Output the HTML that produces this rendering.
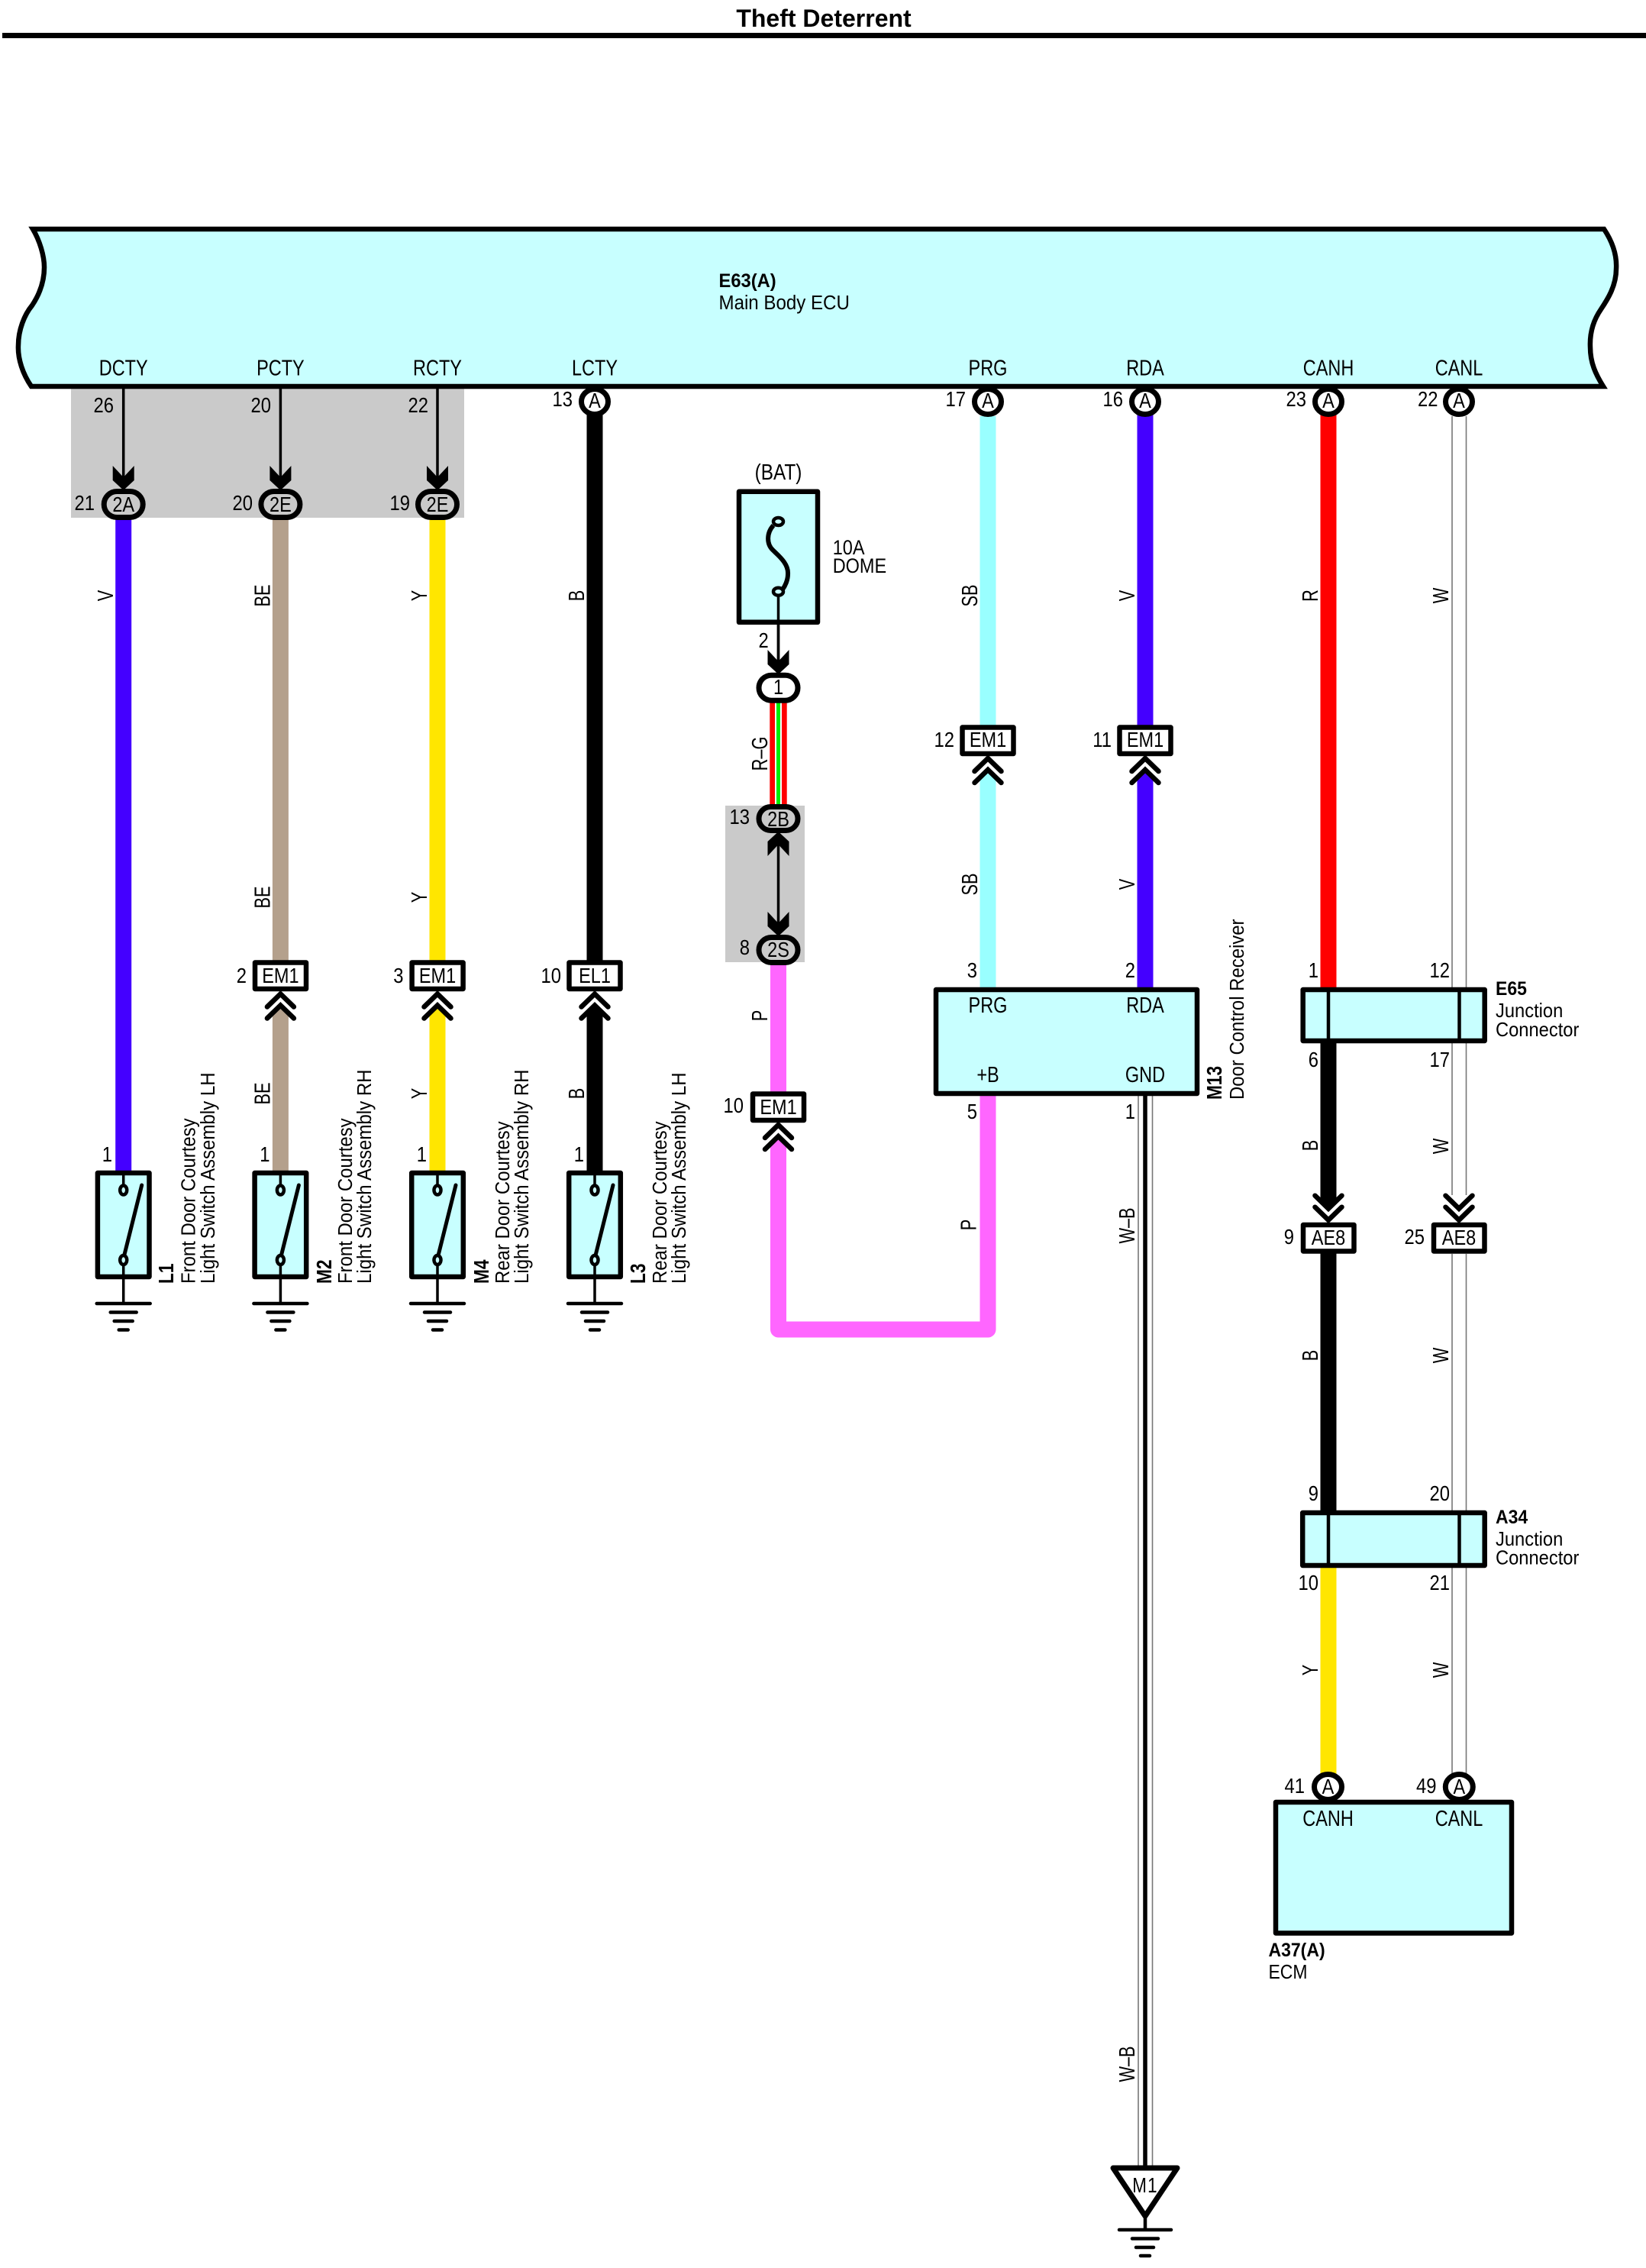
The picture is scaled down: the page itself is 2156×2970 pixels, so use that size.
<!DOCTYPE html>
<html lang="en"><head><meta charset="utf-8"><title>Theft Deterrent</title>
<style>
html,body{margin:0;padding:0;background:#fff}
svg{display:block}
text{font-family:"Liberation Sans",sans-serif;fill:#000}
.n{font-size:28px}.p{font-size:29px}.d{font-size:25.5px}.b{font-size:25px;font-weight:bold}
.m{text-anchor:middle}.e{text-anchor:end}
.w{fill:none;stroke-width:21}
.t{fill:none;stroke:#000;stroke-width:3.5}
.g{fill:none;stroke:#777;stroke-width:1.6}
.box{fill:#c8ffff;stroke:#000;stroke-width:6.5;stroke-linejoin:round}
.cb{fill:#fff;stroke:#000;stroke-width:6.5;stroke-linejoin:round}
</style></head><body>
<svg xmlns="http://www.w3.org/2000/svg" width="2156" height="2970" viewBox="0 0 2156 2970">
<defs>
<g id="ch" fill="none" stroke="#000" stroke-width="6.5" stroke-linecap="round"><path d="M-17.5,20L0,3L17.5,20"/><path d="M-17.5,35L0,18L17.5,35"/></g>
<path id="ft" d="M-14,-30L0,-15L14,-30L14,-11L0,2L-14,-11Z" fill="#000"/>
<g id="gnd" stroke="#000" stroke-width="4.5" stroke-linecap="round"><path d="M-35,0H35M-17,11.500H17M-12,23H12M-6,34.500H6"/></g>
<g id="sw">
<rect class="box" x="-33.800" y="1536" width="67.600" height="136"/>
<path d="M0,1536V1552M0,1656V1707" stroke="#000" stroke-width="3.500" fill="none"/>
<ellipse cx="0" cy="1558.500" rx="4.500" ry="6" fill="#c8ffff" stroke="#000" stroke-width="4.500"/>
<ellipse cx="0" cy="1650" rx="4.500" ry="6" fill="#c8ffff" stroke="#000" stroke-width="4.500"/>
<path d="M1,1644L24,1552" stroke="#000" stroke-width="5" stroke-linecap="round"/>
<use href="#gnd" y="1707"/>
</g>
</defs>
<rect width="2156" height="2970" fill="#fff"/>
<text transform="translate(1079,35)" class="m" style="font-size:32px;font-weight:bold">Theft Deterrent</text>
<rect x="3" y="43" width="2153" height="7" fill="#000"/>

<rect x="93" y="506" width="515" height="172" fill="#cacaca"/>
<rect x="950" y="1055" width="104" height="205" fill="#cacaca"/>

<!-- wires -->
<path class="w" stroke="#4400ff" d="M161.700,680V1535"/>
<path class="w" stroke="#b4a08c" d="M367.400,680V1258"/>
<polygon fill="#b4a08c" points="356.900,1328 367.400,1317 377.900,1328 377.900,1535 356.900,1535"/>
<path class="w" stroke="#ffe600" d="M573,680V1258"/>
<polygon fill="#ffe600" points="562.500,1328 573,1317 583.500,1328 583.500,1535 562.500,1535"/>
<path class="w" stroke="#000" d="M779,540V1258"/>
<polygon fill="#000" points="768.500,1328 779,1317 789.500,1328 789.500,1535 768.500,1535"/>
<path class="t" d="M161.700,506V625M367.400,506V625M573,506V625"/>

<path class="w" stroke="#99ffff" d="M1294,545V952"/>
<polygon fill="#99ffff" points="1283.500,1019.500 1294,1008.500 1304.500,1019.500 1304.500,1296 1283.500,1296"/>
<path class="w" stroke="#4400ff" d="M1500,540V952"/>
<polygon fill="#4400ff" points="1489.500,1019.500 1500,1008.500 1510.500,1019.500 1510.500,1296 1489.500,1296"/>
<path class="w" stroke="#ff0000" d="M1740,540V1296"/>
<polygon fill="#000" points="1729.500,1572 1740,1583 1750.500,1572 1750.500,1360 1729.500,1360"/>
<path class="w" stroke="#000" d="M1740,1640V1980"/>
<path class="w" stroke="#ffe600" d="M1740,2050V2324"/>
<path class="g" d="M1902,545V1293M1920.500,545V1293M1902,1366V1565M1920.500,1366V1565M1902,1642V1978M1920.500,1642V1978M1902,2053V2324M1920.500,2053V2324"/>
<path class="g" d="M1491,1435V2840M1509.500,1435V2840"/>
<path d="M1500,1435V2840" stroke="#000" stroke-width="5.500" fill="none"/>

<path class="t" d="M1019.500,775V870M1019.500,1095V1230"/>
<rect x="1008.300" y="915" width="22.400" height="142" fill="#ff0000"/>
<rect x="1015" y="915" width="9" height="142" fill="#fff"/>
<rect x="1017" y="915" width="5" height="142" fill="#00ee00"/>
<path class="w" stroke="#ff66ff" d="M1019.500,1262V1430"/>
<polygon fill="#ff66ff" points="1009,1499.500 1019.500,1488.500 1030,1499.500"/>
<path class="w" stroke="#ff66ff" stroke-linejoin="round" d="M1019.500,1499V1741H1294V1432"/>

<!-- ECU -->
<path class="box" style="stroke-linejoin:miter" d="M43,300H2101C2113,318 2118,335 2117,352C2117,375 2105,393 2097,405C2088,418 2082,435 2083,455C2083,475 2090,490 2100,506H41C30,490 23,470 24,452C24,432 32,412 42,400C52,385 58,368 58,350C58,335 52,315 43,300Z"/>
<text class="b" transform="matrix(.95 0 0 1 941.500 376)">E63(A)</text>
<text class="d" transform="matrix(.945 0 0 1 941.500 405)">Main Body ECU</text>
<text class="p m" transform="matrix(.81 0 0 1 161.700 491.500)">DCTY</text>
<text class="p m" transform="matrix(.81 0 0 1 367.400 491.500)">PCTY</text>
<text class="p m" transform="matrix(.81 0 0 1 573 491.500)">RCTY</text>
<text class="p m" transform="matrix(.81 0 0 1 779 491.500)">LCTY</text>
<text class="p m" transform="matrix(.81 0 0 1 1294 491.500)">PRG</text>
<text class="p m" transform="matrix(.81 0 0 1 1500 491.500)">RDA</text>
<text class="p m" transform="matrix(.81 0 0 1 1740 491.500)">CANH</text>
<text class="p m" transform="matrix(.81 0 0 1 1911 491.500)">CANL</text>

<!-- A rings top -->
<g fill="#fff" stroke="#000" stroke-width="7">
<ellipse cx="779" cy="526" rx="17.500" ry="16.500"/>
<ellipse cx="1294" cy="526" rx="17.500" ry="16.500"/>
<ellipse cx="1500" cy="526" rx="17.500" ry="16.500"/>
<ellipse cx="1740" cy="526" rx="17.500" ry="16.500"/>
<ellipse cx="1911" cy="526" rx="17.500" ry="16.500"/>
<ellipse cx="1739.500" cy="2340" rx="18" ry="16.500"/>
<ellipse cx="1911.300" cy="2340" rx="18" ry="16.500"/>
</g>
<text class="n m" transform="matrix(.84 0 0 1 779 534)">A</text>
<text class="n m" transform="matrix(.84 0 0 1 1294 534)">A</text>
<text class="n m" transform="matrix(.84 0 0 1 1500 534)">A</text>
<text class="n m" transform="matrix(.84 0 0 1 1740 534)">A</text>
<text class="n m" transform="matrix(.84 0 0 1 1911 534)">A</text>
<text class="n e" transform="matrix(.85 0 0 1 750 532)">13</text>
<text class="n e" transform="matrix(.85 0 0 1 1265 532)">17</text>
<text class="n e" transform="matrix(.85 0 0 1 1471 532)">16</text>
<text class="n e" transform="matrix(.85 0 0 1 1711 532)">23</text>
<text class="n e" transform="matrix(.85 0 0 1 1883.500 532)">22</text>
<text class="n e" transform="matrix(.85 0 0 1 149 540)">26</text>
<text class="n e" transform="matrix(.85 0 0 1 355 540)">20</text>
<text class="n e" transform="matrix(.85 0 0 1 561 540)">22</text>

<!-- in-line fishtail connectors -->
<use href="#ft" x="161.700" y="640"/><use href="#ft" x="367.400" y="640"/><use href="#ft" x="573" y="640"/>
<g fill="none" stroke="#000" stroke-width="7">
<rect x="136.200" y="643.500" width="51" height="34" rx="17" ry="17"/>
<rect x="341.900" y="643.500" width="51" height="34" rx="17" ry="17"/>
<rect x="547.500" y="643.500" width="51" height="34" rx="17" ry="17"/>
</g>
<text class="n m" transform="matrix(.84 0 0 1 161.700 670)">2A</text>
<text class="n m" transform="matrix(.84 0 0 1 367.400 670)">2E</text>
<text class="n m" transform="matrix(.84 0 0 1 573 670)">2E</text>
<text class="n e" transform="matrix(.85 0 0 1 124 668)">21</text>
<text class="n e" transform="matrix(.85 0 0 1 331 668)">20</text>
<text class="n e" transform="matrix(.85 0 0 1 537 668)">19</text>

<!-- fuse -->
<text class="p m" transform="matrix(.84 0 0 1 1019.500 628)">(BAT)</text>
<rect class="box" x="968" y="643.800" width="103" height="171"/>
<path d="M1013,688C1004,698 1004,712 1012,720C1020,728 1033,738 1032,752C1032,760 1028,768 1025,772" fill="none" stroke="#000" stroke-width="6"/>
<ellipse cx="1019.500" cy="683" rx="6.500" ry="5" fill="#c8ffff" stroke="#000" stroke-width="4.500"/>
<ellipse cx="1019.500" cy="774.700" rx="6.500" ry="5" fill="#c8ffff" stroke="#000" stroke-width="4.500"/>
<path d="M1019.500,780V870" stroke="#000" stroke-width="3.500"/>
<text class="p" style="font-size:27px" transform="matrix(.87 0 0 1 1090.700 726)">10A</text>
<text class="p" style="font-size:27px" transform="matrix(.87 0 0 1 1090.700 750)">DOME</text>
<text class="n e" transform="matrix(.85 0 0 1 1006.700 848)">2</text>
<use href="#ft" x="1019.500" y="881"/>
<rect x="994" y="884.200" width="51" height="33" rx="16.500" ry="16.500" fill="#fff" stroke="#000" stroke-width="7"/>
<text class="n m" transform="matrix(.84 0 0 1 1019.500 909)">1</text>
<rect x="994" y="1056.500" width="51" height="31" rx="15.500" ry="15.500" fill="#cacaca" stroke="#000" stroke-width="7"/>
<text class="n m" transform="matrix(.84 0 0 1 1019.500 1082)">2B</text>
<use href="#ft" transform="translate(1019.500,1091) scale(1,-1)"/>
<use href="#ft" x="1019.500" y="1224"/>
<rect x="994" y="1227.500" width="51" height="33" rx="16.500" ry="16.500" fill="#cacaca" stroke="#000" stroke-width="7"/>
<text class="n m" transform="matrix(.84 0 0 1 1019.500 1253)">2S</text>
<text class="n e" transform="matrix(.85 0 0 1 982 1079)">13</text>
<text class="n e" transform="matrix(.85 0 0 1 982 1250)">8</text>

<!-- box connectors -->
<rect class="cb" x="334" y="1260.500" width="67" height="34.500"/>
<rect class="cb" x="539.600" y="1260.500" width="67" height="34.500"/>
<rect class="cb" x="745.500" y="1260.500" width="67" height="34.500"/>
<rect class="cb" x="986" y="1432.500" width="67" height="34.500"/>
<rect class="cb" x="1260.500" y="952.500" width="67" height="34.500"/>
<rect class="cb" x="1466.500" y="952.500" width="67" height="34.500"/>
<rect class="cb" x="1707" y="1604" width="66.500" height="34.500"/>
<rect class="cb" x="1878" y="1604" width="66.500" height="34.500"/>
<use href="#ch" x="367.400" y="1298.500"/><use href="#ch" x="573" y="1298.500"/><use href="#ch" x="779" y="1298.500"/>
<use href="#ch" x="1019.500" y="1470"/><use href="#ch" x="1294" y="990"/><use href="#ch" x="1500" y="990"/>
<use href="#ch" transform="translate(1740,1600.700) scale(1,-1)"/>
<use href="#ch" transform="translate(1911,1600.700) scale(1,-1)"/>
<text class="n m" transform="matrix(.84 0 0 1 367.400 1287)">EM1</text>
<text class="n m" transform="matrix(.84 0 0 1 573 1287)">EM1</text>
<text class="n m" transform="matrix(.84 0 0 1 779 1287)">EL1</text>
<text class="n m" transform="matrix(.84 0 0 1 1019.500 1459)">EM1</text>
<text class="n m" transform="matrix(.84 0 0 1 1294 978)">EM1</text>
<text class="n m" transform="matrix(.84 0 0 1 1500 978)">EM1</text>
<text class="n m" transform="matrix(.84 0 0 1 1740 1630)">AE8</text>
<text class="n m" transform="matrix(.84 0 0 1 1911 1630)">AE8</text>
<text class="n e" transform="matrix(.85 0 0 1 323 1287)">2</text>
<text class="n e" transform="matrix(.85 0 0 1 528.500 1287)">3</text>
<text class="n e" transform="matrix(.85 0 0 1 735 1287)">10</text>
<text class="n e" transform="matrix(.85 0 0 1 974 1457)">10</text>
<text class="n e" transform="matrix(.85 0 0 1 1250 978)">12</text>
<text class="n e" transform="matrix(.85 0 0 1 1456 978)">11</text>
<text class="n e" transform="matrix(.85 0 0 1 1695 1629)">9</text>
<text class="n e" transform="matrix(.85 0 0 1 1866 1629)">25</text>

<!-- switches -->
<use href="#sw" x="161.700"/><use href="#sw" x="367.400"/><use href="#sw" x="573"/><use href="#sw" x="779"/>
<text class="n e" transform="matrix(.85 0 0 1 147 1521)">1</text>
<text class="n e" transform="matrix(.85 0 0 1 353.500 1521)">1</text>
<text class="n e" transform="matrix(.85 0 0 1 559 1521)">1</text>
<text class="n e" transform="matrix(.85 0 0 1 765 1521)">1</text>
<g style="font-size:28px;font-weight:bold">
<text transform="matrix(0 -.81 1 0 227 1681)">L1</text>
<text transform="matrix(0 -.81 1 0 434 1681)">M2</text>
<text transform="matrix(0 -.81 1 0 640 1681)">M4</text>
<text transform="matrix(0 -.81 1 0 845 1681)">L3</text>
<text transform="matrix(0 -.81 1 0 1600 1440)">M13</text>
</g>
<g style="font-size:26px">
<text transform="matrix(0 -.92 1 0 255.500 1681)">Front Door Courtesy</text>
<text transform="matrix(0 -.925 1 0 281 1681)">Light Switch Assembly LH</text>
<text transform="matrix(0 -.92 1 0 461 1681)">Front Door Courtesy</text>
<text transform="matrix(0 -.925 1 0 486 1681)">Light Switch Assembly RH</text>
<text transform="matrix(0 -.92 1 0 667 1681)">Rear Door Courtesy</text>
<text transform="matrix(0 -.925 1 0 692 1681)">Light Switch Assembly RH</text>
<text transform="matrix(0 -.92 1 0 873 1681)">Rear Door Courtesy</text>
<text transform="matrix(0 -.925 1 0 898 1681)">Light Switch Assembly LH</text>
<text transform="matrix(0 -.92 1 0 1629 1440)">Door Control Receiver</text>
</g>

<!-- M13 -->
<rect class="box" x="1226" y="1296" width="342" height="136"/>
<text class="p m" transform="matrix(.81 0 0 1 1294 1326)">PRG</text>
<text class="p m" transform="matrix(.81 0 0 1 1500 1326)">RDA</text>
<text class="p m" transform="matrix(.81 0 0 1 1294 1417)">+B</text>
<text class="p m" transform="matrix(.81 0 0 1 1500 1417)">GND</text>
<text class="n e" transform="matrix(.85 0 0 1 1280 1280)">3</text>
<text class="n e" transform="matrix(.85 0 0 1 1487 1280)">2</text>
<text class="n e" transform="matrix(.85 0 0 1 1280 1465)">5</text>
<text class="n e" transform="matrix(.85 0 0 1 1487 1465)">1</text>

<!-- E65 -->
<rect class="box" x="1706.700" y="1296" width="238" height="67"/>
<path d="M1740,1296V1363M1911.500,1296V1363" stroke="#000" stroke-width="4.500"/>
<text class="n e" transform="matrix(.85 0 0 1 1727 1280)">1</text>
<text class="n e" transform="matrix(.85 0 0 1 1899 1280)">12</text>
<text class="n e" transform="matrix(.85 0 0 1 1727 1397)">6</text>
<text class="n e" transform="matrix(.85 0 0 1 1899 1397)">17</text>
<text class="b" transform="matrix(.92 0 0 1 1959 1303)">E65</text>
<text class="d" transform="matrix(.93 0 0 1 1959 1332)">Junction</text>
<text class="d" transform="matrix(.93 0 0 1 1959 1357)">Connector</text>

<!-- A34 -->
<rect class="box" x="1706.200" y="1981" width="238.500" height="69"/>
<path d="M1740,1981V2050M1911.500,1981V2050" stroke="#000" stroke-width="4.500"/>
<text class="n e" transform="matrix(.85 0 0 1 1727 1965)">9</text>
<text class="n e" transform="matrix(.85 0 0 1 1899 1965)">20</text>
<text class="n e" transform="matrix(.85 0 0 1 1727 2082)">10</text>
<text class="n e" transform="matrix(.85 0 0 1 1899 2082)">21</text>
<text class="b" transform="matrix(.92 0 0 1 1959 1995)">A34</text>
<text class="d" transform="matrix(.93 0 0 1 1959 2024)">Junction</text>
<text class="d" transform="matrix(.93 0 0 1 1959 2048.500)">Connector</text>

<!-- ECM -->
<text class="n m" transform="matrix(.84 0 0 1 1739.500 2349)">A</text>
<text class="n m" transform="matrix(.84 0 0 1 1911.300 2349)">A</text>
<text class="n e" transform="matrix(.85 0 0 1 1709 2348)">41</text>
<text class="n e" transform="matrix(.85 0 0 1 1881.500 2348)">49</text>
<rect class="box" x="1671" y="2360" width="309" height="171.500"/>
<text class="p m" transform="matrix(.81 0 0 1 1739.500 2391)">CANH</text>
<text class="p m" transform="matrix(.81 0 0 1 1911 2391)">CANL</text>
<text class="b" transform="matrix(.92 0 0 1 1661.500 2562)">A37(A)</text>
<text class="d" transform="matrix(.9 0 0 1 1661.500 2591)">ECM</text>

<!-- M1 ground -->
<path d="M1458,2839H1542L1500,2902Z" fill="#fff" stroke="#000" stroke-width="7" stroke-linejoin="round"/>
<path d="M1500,2902V2920" stroke="#000" stroke-width="4.500"/>
<path d="M1466,2920H1534M1483,2931.500H1517M1488,2943H1511M1494,2954H1506" stroke="#000" stroke-width="4.500" stroke-linecap="round"/>
<text class="n m" transform="matrix(.8 0 0 1 1500 2871)" style="letter-spacing:1.500px">M1</text>

<!-- wire colour labels -->
<g class="p">
<text class="m" transform="matrix(0 -.75 1 0 148 780)">V</text>
<text class="m" transform="matrix(0 -.75 1 0 353.500 780)">BE</text>
<text class="m" transform="matrix(0 -.75 1 0 353.500 1175)">BE</text>
<text class="m" transform="matrix(0 -.75 1 0 353.500 1432)">BE</text>
<text class="m" transform="matrix(0 -.75 1 0 559 780)">Y</text>
<text class="m" transform="matrix(0 -.75 1 0 559 1175)">Y</text>
<text class="m" transform="matrix(0 -.75 1 0 559 1432)">Y</text>
<text class="m" transform="matrix(0 -.75 1 0 765 780)">B</text>
<text class="m" transform="matrix(0 -.75 1 0 765 1432)">B</text>
<text class="m" transform="matrix(0 -.75 1 0 1005 987)">R–G</text>
<text class="m" transform="matrix(0 -.75 1 0 1005 1330)">P</text>
<text class="m" transform="matrix(0 -.75 1 0 1280 780)">SB</text>
<text class="m" transform="matrix(0 -.75 1 0 1280 1158)">SB</text>
<text class="m" transform="matrix(0 -.75 1 0 1278.500 1604)">P</text>
<text class="m" transform="matrix(0 -.75 1 0 1486 780)">V</text>
<text class="m" transform="matrix(0 -.75 1 0 1486 1158)">V</text>
<text class="m" transform="matrix(0 -.75 1 0 1486 1605)">W–B</text>
<text class="m" transform="matrix(0 -.75 1 0 1486 2703)">W–B</text>
<text class="m" transform="matrix(0 -.75 1 0 1726 780)">R</text>
<text class="m" transform="matrix(0 -.75 1 0 1726 1500)">B</text>
<text class="m" transform="matrix(0 -.75 1 0 1726 1775)">B</text>
<text class="m" transform="matrix(0 -.75 1 0 1726 2187)">Y</text>
<text class="m" transform="matrix(0 -.75 1 0 1897 780)">W</text>
<text class="m" transform="matrix(0 -.75 1 0 1897 1501)">W</text>
<text class="m" transform="matrix(0 -.75 1 0 1897 1775)">W</text>
<text class="m" transform="matrix(0 -.75 1 0 1897 2187)">W</text>
</g>
</svg>
</body></html>
